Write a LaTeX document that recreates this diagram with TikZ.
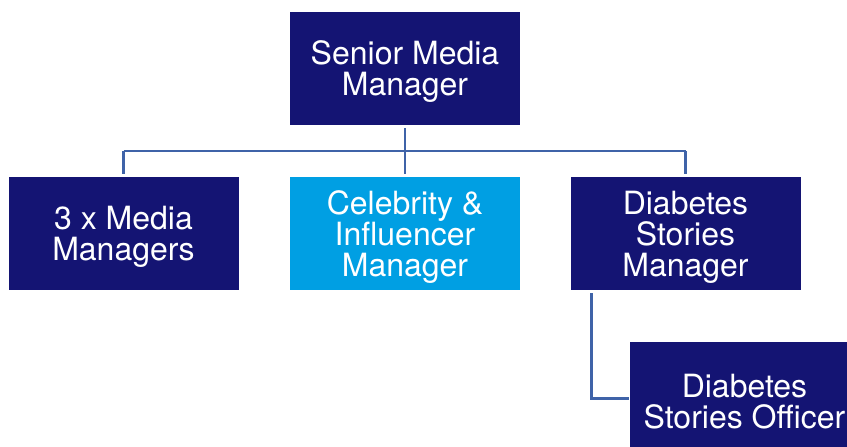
\documentclass[tikz,border=0pt]{standalone}
\usepackage{fontspec}
\setmainfont{TeX Gyre Heros}
\usetikzlibrary{positioning}

\definecolor{navy}{HTML}{141473}
\definecolor{skyblue}{HTML}{009FE3}
\definecolor{linkblue}{HTML}{3F63A8}

% taller first line, pushes the text a bit down in its box
\newcommand{\topstrut}{\rule{0pt}{30pt}}

\begin{document}
\begin{tikzpicture}[%
            x=1pt, y=-1pt,
            on grid,
            box/.style={rectangle, fill=navy, text=white, align=center,
              minimum width=230pt, minimum height=113pt, inner sep=0pt,
              font=\fontsize{32}{31}\selectfont},
            lightbox/.style={box, fill=skyblue},
            link/.style={draw=linkblue, line width=2.4pt}
            ]
            \useasboundingbox (0,0) rectangle (847,447);

            \node[box] (smm) at (405,68.5) {\topstrut Senior Media\\Manager};
            \node[lightbox] (cim) [below=165pt of smm] {\topstrut Celebrity \&\\Influencer\\Manager};
            \node[box] (mm) [left=281.5pt of cim] {\topstrut 3 x Media\\Managers};
            \node[box] (dsm) [right=280.5pt of cim] {\topstrut Diabetes\\Stories\\Manager};
            \node[box] (dso) [below right=165pt and 59pt of dsm] {\topstrut Diabetes\\Stories Officer};

            \coordinate (bus) at (405,151);
            \path[link, shorten <=3pt, shorten >=3pt] (smm) -- (cim);
            \path[link, shorten >=3pt] (mm.north |- bus) -- (mm.north);
            \path[link, shorten >=3pt] (dsm.north |- bus) -- (dsm.north);
            \path[link] (mm.north |- bus) -- (dsm.north |- bus);
            \path[link, shorten <=3pt] ([xshift=21pt]dsm.south west) |- (dso.west);
        \end{tikzpicture}
\end{document}
